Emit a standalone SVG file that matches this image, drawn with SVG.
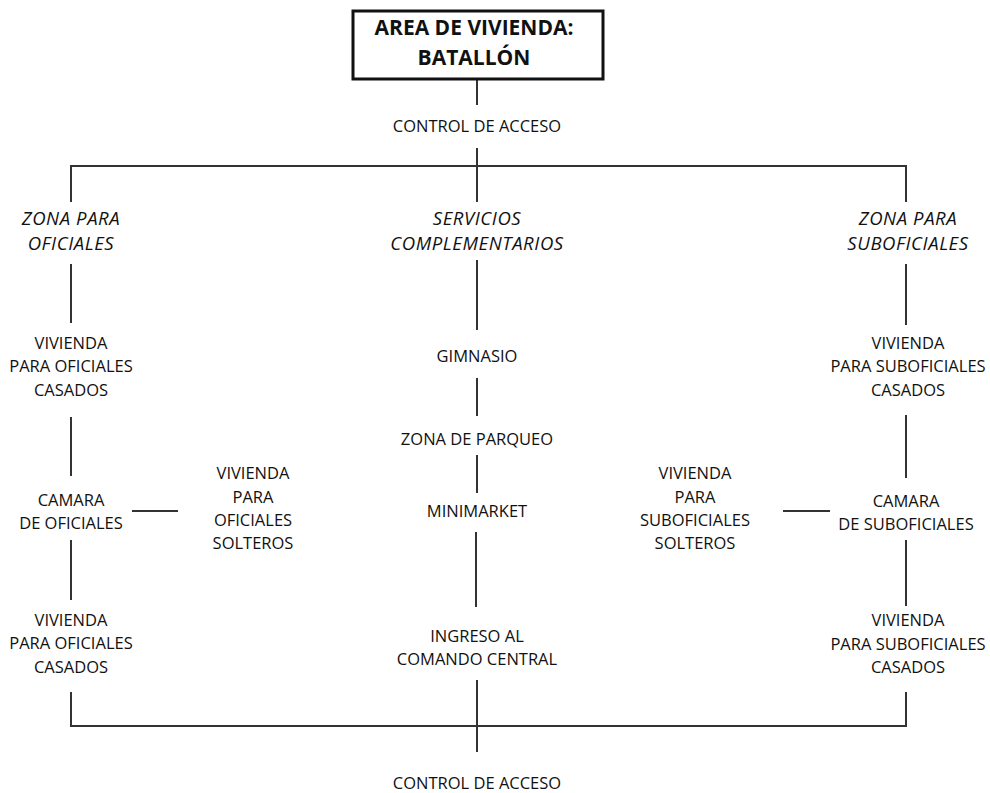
<svg xmlns="http://www.w3.org/2000/svg" width="990" height="793" viewBox="0 0 990 793">
  <style>
    text { font-family: "Open Sans", "Liberation Sans", sans-serif; font-size: 16.5px; fill: #111; text-anchor: middle; }
    .title { font-weight: bold; font-size: 21px; }
    .zone { font-style: italic; font-size: 18.5px; letter-spacing: 0.6px; }
    .link { stroke: #333; stroke-width: 2; fill: none; }
  </style>
  <rect width="990" height="793" fill="#fff"/>

  <!-- connectors -->
  <g id="connectors" class="link">
    <line x1="477" y1="80" x2="477" y2="105"/>
    <line x1="477" y1="148" x2="477" y2="202"/>
    <polyline points="71,202 71,166 906,166 906,202"/>
    <line x1="71" y1="264" x2="71" y2="323"/>
    <line x1="71" y1="417" x2="71" y2="476"/>
    <line x1="71" y1="540" x2="71" y2="600"/>
    <line x1="132" y1="511" x2="178" y2="511"/>
    <line x1="477" y1="260" x2="477" y2="330"/>
    <line x1="477" y1="378" x2="477" y2="416"/>
    <line x1="477" y1="455" x2="477" y2="493"/>
    <line x1="476" y1="532" x2="476" y2="607"/>
    <line x1="477" y1="680" x2="477" y2="752"/>
    <line x1="906" y1="264" x2="906" y2="325"/>
    <line x1="906" y1="415" x2="906" y2="478"/>
    <line x1="906" y1="540" x2="906" y2="606"/>
    <line x1="783" y1="511" x2="830" y2="511"/>
    <polyline points="71,692 71,726 906,726 906,692"/>
  </g>

  <!-- title -->
  <g id="area-vivienda">
    <rect x="353" y="11" width="250" height="68" fill="#fff" stroke="#111" stroke-width="3"/>
    <text class="title" x="474" y="35">AREA DE VIVIENDA:</text>
    <text class="title" x="474" y="65">BATALLÓN</text>
  </g>

  <g id="control-acceso-norte">
    <text x="477" y="132">CONTROL DE ACCESO</text>
  </g>

  <!-- officers -->
  <g id="zona-oficiales">
    <text class="zone" x="71" y="225">ZONA PARA</text>
    <text class="zone" x="71" y="250">OFICIALES</text>
  </g>
  <g id="vivienda-oficiales-casados-1">
    <text x="71" y="349">VIVIENDA</text>
    <text x="71" y="372">PARA OFICIALES</text>
    <text x="71" y="396">CASADOS</text>
  </g>
  <g id="camara-oficiales">
    <text x="71" y="506">CAMARA</text>
    <text x="71" y="529">DE OFICIALES</text>
  </g>
  <g id="vivienda-oficiales-solteros">
    <text x="253" y="479">VIVIENDA</text>
    <text x="253" y="503">PARA</text>
    <text x="253" y="526">OFICIALES</text>
    <text x="253" y="549">SOLTEROS</text>
  </g>
  <g id="vivienda-oficiales-casados-2">
    <text x="71" y="626">VIVIENDA</text>
    <text x="71" y="649">PARA OFICIALES</text>
    <text x="71" y="673">CASADOS</text>
  </g>

  <!-- services -->
  <g id="servicios">
    <text class="zone" x="477" y="225">SERVICIOS</text>
    <text class="zone" x="477" y="250">COMPLEMENTARIOS</text>
  </g>
  <g id="gimnasio">
    <text x="477" y="362">GIMNASIO</text>
  </g>
  <g id="parqueo">
    <text x="477" y="445">ZONA DE PARQUEO</text>
  </g>
  <g id="minimarket">
    <text x="477" y="517">MINIMARKET</text>
  </g>
  <g id="ingreso-comando">
    <text x="477" y="642">INGRESO AL</text>
    <text x="477" y="665">COMANDO CENTRAL</text>
  </g>

  <!-- non-commissioned officers -->
  <g id="zona-suboficiales">
    <text class="zone" x="908" y="225">ZONA PARA</text>
    <text class="zone" x="908" y="250">SUBOFICIALES</text>
  </g>
  <g id="vivienda-suboficiales-casados-1">
    <text x="908" y="349">VIVIENDA</text>
    <text x="908" y="372">PARA SUBOFICIALES</text>
    <text x="908" y="396">CASADOS</text>
  </g>
  <g id="camara-suboficiales">
    <text x="906" y="507">CAMARA</text>
    <text x="906" y="530">DE SUBOFICIALES</text>
  </g>
  <g id="vivienda-suboficiales-solteros">
    <text x="695" y="479">VIVIENDA</text>
    <text x="695" y="503">PARA</text>
    <text x="695" y="526">SUBOFICIALES</text>
    <text x="695" y="549">SOLTEROS</text>
  </g>
  <g id="vivienda-suboficiales-casados-2">
    <text x="908" y="626">VIVIENDA</text>
    <text x="908" y="650">PARA SUBOFICIALES</text>
    <text x="908" y="673">CASADOS</text>
  </g>

  <g id="control-acceso-sur">
    <text x="477" y="789">CONTROL DE ACCESO</text>
  </g>
</svg>
